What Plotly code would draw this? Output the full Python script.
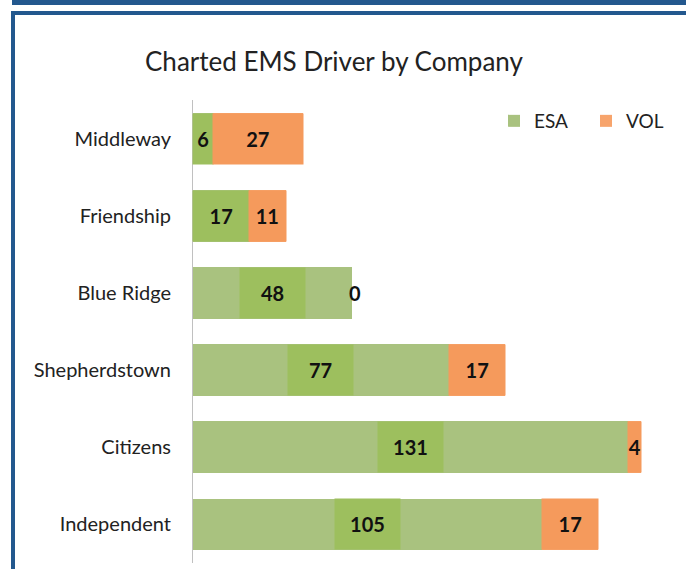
import plotly.graph_objects as go

categories = ["Middleway", "Friendship", "Blue Ridge", "Shepherdstown", "Citizens", "Independent"]
esa = [6, 17, 48, 77, 131, 105]
vol = [27, 11, 0, 17, 4, 17]
title_text = "Charted EMS Driver by Company"

W_FIG, H_FIG = 686, 569
# plot area in page pixels
PL, PR, PT, PB = 193, 686, 100, 563
ML, MT = PL, PT
MR, MB = W_FIG - PR, H_FIG - PB
PW = PR - PL
PH = PB - PT
UNIT_PX = 3.32
XMAX = PW / UNIT_PX

def px_x(p):
    return (p - PL) / PW

def px_y(p):
    return (PB - p) / PH

GREEN = "#a9c27f"
GREEN_BOX = "#9dbf5e"
ORANGE = "#f7a46c"
ORANGE_BOX = "#f59a5c"
FONT = "Lato"
LABEL_FONT = dict(family=FONT, size=20, color="#111111")

fig = go.Figure()
fig.add_trace(go.Bar(y=categories, x=esa, orientation="h", name="ESA",
                     marker=dict(color=GREEN, line=dict(width=0))))
fig.add_trace(go.Bar(y=categories, x=vol, orientation="h", name="VOL",
                     marker=dict(color=ORANGE, line=dict(width=0))))

annotations = []
for c, e, v in zip(categories, esa, vol):
    w_e = min(65, e * UNIT_PX)
    annotations.append(dict(x=e / 2, y=c, xref="x", yref="y", text=f"<b>{e}</b>",
                            showarrow=False, bgcolor=GREEN_BOX, width=w_e, height=50,
                            borderpad=0, font=LABEL_FONT))
    if v > 0:
        w_v = v * UNIT_PX
        annotations.append(dict(x=e + v / 2, y=c, xref="x", yref="y", text=f"<b>{v}</b>",
                                showarrow=False, bgcolor=ORANGE_BOX, width=w_v, height=50,
                                borderpad=0, font=LABEL_FONT))
    else:
        annotations.append(dict(x=e + v / 2, y=c, xref="x", yref="y", text=f"<b>{v}</b>",
                                showarrow=False, xshift=3, font=LABEL_FONT))

annotations.append(dict(x=px_x(334), y=px_y(61), xref="paper", yref="paper",
                        text=title_text, showarrow=False, xanchor="center", yanchor="middle",
                        font=dict(family=FONT, size=26, color="#222222")))

frame = "#23588e"

def frame_rect(x0, y0, x1, y1):
    return dict(type="rect", xref="paper", yref="paper", layer="above",
                x0=px_x(x0), x1=px_x(x1), y0=px_y(y1), y1=px_y(y0),
                fillcolor=frame, line=dict(width=0))

shapes = [
    frame_rect(12, 0, 690, 5),
    frame_rect(11, 11, 690, 15),
    frame_rect(11, 11, 15, 575),
]

fig.update_layout(
    width=W_FIG, height=H_FIG,
    margin=dict(l=ML, r=MR, t=MT, b=MB),
    barmode="stack", bargap=0.33,
    paper_bgcolor="white", plot_bgcolor="white",
    font=dict(family=FONT, size=17, color="#222222"),
    showlegend=True,
    legend=dict(orientation="h", x=px_x(494), y=px_y(121), xanchor="left", yanchor="middle",
                traceorder="normal", entrywidth=47,
                font=dict(family=FONT, size=19, color="#222222"), bgcolor="rgba(0,0,0,0)",
                itemwidth=30),
    xaxis=dict(range=[0, XMAX], visible=False),
    yaxis=dict(autorange="reversed", showline=True, linecolor="#c0c0c0", linewidth=1,
               showgrid=False, ticks="", ticklabelstandoff=17,
               tickfont=dict(family=FONT, size=20, color="#222222")),
    annotations=annotations,
    shapes=shapes,
)

fig.write_html("out.html", config={"displayModeBar": False},
               post_script="document.body.style.margin='0';document.body.style.overflow='hidden';")
